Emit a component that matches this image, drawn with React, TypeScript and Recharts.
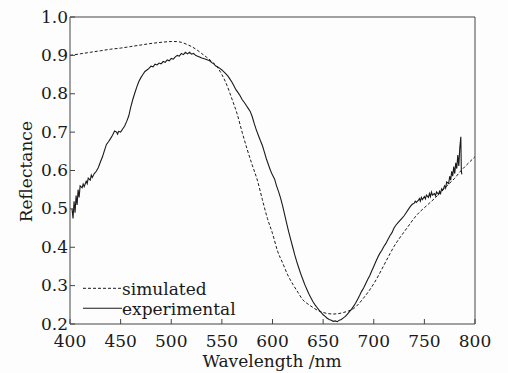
import React from "react";
import { LineChart, Line, XAxis, YAxis } from "recharts";

const xTicks = [400, 450, 500, 550, 600, 650, 700, 750, 800];
const yTicks = [0.2, 0.3, 0.4, 0.5, 0.6, 0.7, 0.8, 0.9, 1.0];

const simNm = [400, 410, 420, 430, 440, 450, 460, 470, 480, 490, 500, 505, 510, 515, 520, 525, 530, 535, 540, 545, 550, 555, 560, 565, 570, 575, 580, 585, 590, 595, 600, 605, 610, 615, 620, 625, 630, 635, 640, 645, 650, 655, 660, 665, 670, 675, 680, 685, 690, 695, 700, 705, 710, 715, 720, 725, 730, 735, 740, 745, 750, 755, 760, 765, 770, 775, 780, 785, 790, 795, 800];
const simVal = [0.900, 0.904, 0.908, 0.912, 0.916, 0.919, 0.923, 0.927, 0.931, 0.934, 0.936, 0.936, 0.934, 0.929, 0.923, 0.915, 0.905, 0.895, 0.884, 0.871, 0.850, 0.822, 0.786, 0.748, 0.700, 0.655, 0.614, 0.575, 0.524, 0.475, 0.436, 0.390, 0.359, 0.328, 0.304, 0.283, 0.263, 0.252, 0.243, 0.235, 0.230, 0.227, 0.226, 0.227, 0.230, 0.234, 0.240, 0.252, 0.268, 0.285, 0.305, 0.328, 0.353, 0.378, 0.402, 0.422, 0.440, 0.458, 0.476, 0.491, 0.503, 0.515, 0.527, 0.540, 0.554, 0.567, 0.580, 0.596, 0.610, 0.623, 0.636];

const expNm = [402, 403, 404, 405, 406, 407, 408, 409, 410, 412, 413, 414, 416, 417, 418, 420, 421, 422, 424, 426, 428, 430, 432, 434, 436, 438, 440, 442, 444, 446, 447, 448, 450, 452, 454, 456, 458, 460, 462, 464, 466, 468, 470, 472, 474, 476, 478, 480, 482, 484, 486, 488, 490, 492, 494, 496, 498, 500, 502, 504, 506, 508, 510, 512, 514, 516, 518, 520, 522, 524, 526, 528, 530, 532, 534, 536, 538, 540, 542, 544, 546, 548, 550, 552, 554, 556, 558, 560, 562, 564, 566, 568, 570, 572, 574, 576, 578, 580, 582, 584, 586, 588, 590, 592, 594, 596, 598, 600, 602, 604, 606, 608, 610, 612, 614, 616, 618, 620, 622, 624, 626, 628, 630, 632, 634, 636, 638, 640, 642, 644, 646, 648, 650, 652, 654, 656, 658, 660, 662, 664, 666, 668, 670, 672, 674, 676, 678, 680, 682, 684, 686, 688, 690, 692, 694, 696, 698, 700, 702, 704, 706, 708, 710, 712, 714, 716, 718, 720, 722, 724, 726, 728, 730, 732, 734, 736, 738, 740, 741, 742, 744, 745, 746, 747, 748, 750, 751, 752, 754, 755, 756, 757, 758, 760, 761, 762, 764, 765, 766, 767, 768, 770, 771, 772, 774, 775, 776, 777, 778, 779, 780, 781, 782, 783, 784, 785, 786, 786.5, 787];
const expVal = [0.500, 0.475, 0.520, 0.490, 0.535, 0.510, 0.550, 0.530, 0.560, 0.555, 0.565, 0.558, 0.572, 0.566, 0.580, 0.575, 0.588, 0.582, 0.592, 0.598, 0.608, 0.622, 0.635, 0.652, 0.668, 0.675, 0.683, 0.692, 0.703, 0.700, 0.695, 0.702, 0.700, 0.708, 0.716, 0.728, 0.742, 0.765, 0.785, 0.802, 0.818, 0.832, 0.842, 0.850, 0.858, 0.862, 0.866, 0.872, 0.870, 0.877, 0.875, 0.880, 0.878, 0.884, 0.882, 0.888, 0.886, 0.892, 0.890, 0.896, 0.900, 0.898, 0.905, 0.902, 0.908, 0.904, 0.908, 0.903, 0.905, 0.900, 0.898, 0.896, 0.893, 0.892, 0.890, 0.888, 0.886, 0.881, 0.878, 0.872, 0.870, 0.866, 0.862, 0.857, 0.852, 0.846, 0.838, 0.830, 0.820, 0.810, 0.803, 0.795, 0.785, 0.778, 0.770, 0.762, 0.754, 0.740, 0.722, 0.706, 0.692, 0.678, 0.665, 0.648, 0.630, 0.615, 0.600, 0.588, 0.578, 0.560, 0.545, 0.528, 0.508, 0.485, 0.462, 0.440, 0.420, 0.400, 0.380, 0.362, 0.346, 0.330, 0.316, 0.302, 0.290, 0.278, 0.268, 0.258, 0.250, 0.243, 0.236, 0.230, 0.224, 0.220, 0.215, 0.212, 0.210, 0.207, 0.208, 0.206, 0.210, 0.212, 0.216, 0.220, 0.226, 0.232, 0.238, 0.246, 0.254, 0.264, 0.274, 0.285, 0.294, 0.305, 0.316, 0.326, 0.338, 0.350, 0.362, 0.374, 0.384, 0.392, 0.402, 0.410, 0.420, 0.430, 0.438, 0.450, 0.458, 0.464, 0.470, 0.476, 0.482, 0.490, 0.498, 0.506, 0.512, 0.515, 0.520, 0.517, 0.522, 0.527, 0.520, 0.530, 0.524, 0.532, 0.526, 0.536, 0.530, 0.540, 0.532, 0.544, 0.536, 0.540, 0.534, 0.544, 0.538, 0.546, 0.540, 0.552, 0.548, 0.560, 0.554, 0.570, 0.566, 0.585, 0.575, 0.598, 0.585, 0.610, 0.592, 0.620, 0.605, 0.640, 0.612, 0.660, 0.688, 0.600, 0.590];

const simData = simNm.map((nm, i) => ({ nm, v: simVal[i] }));
const expData = expNm.map((nm, i) => ({ nm, v: expVal[i] }));

const FONT = "'DejaVu Serif', serif";
const AXIS = "#444";
const INK = "#1a1a1a";

const BottomTick = (props: any) => (
  <text x={props.x} y={props.y + 23} textAnchor="middle" fontFamily={FONT} fontSize={17} fill={INK}>
    {props.payload.value}
  </text>
);
const LeftTick = (props: any) => (
  <text x={props.x} y={props.y + 5.5} textAnchor="end" fontFamily={FONT} fontSize={17} fill={INK}>
    {Number(props.payload.value).toFixed(1)}
  </text>
);

export default function App() {
  return (
    <div style={{ position: "absolute", left: 0, top: 0, width: 508, height: 373, background: "#fdfdfd" }}>
      <LineChart width={508} height={373} margin={{ top: 0, right: 0, bottom: 0, left: 0 }}>
        <XAxis
          xAxisId="b"
          dataKey="nm"
          type="number"
          domain={[400, 800]}
          ticks={xTicks}
          allowDataOverflow
          height={49}
          stroke={AXIS}
          tickSize={-5}
          tickMargin={5}
          tick={BottomTick}
        />
        <XAxis
          xAxisId="t"
          orientation="top"
          dataKey="nm"
          type="number"
          domain={[400, 800]}
          ticks={xTicks}
          allowDataOverflow
          height={17}
          stroke={AXIS}
          tickSize={-5}
          tick={false}
        />
        <YAxis
          yAxisId="l"
          type="number"
          domain={[0.2, 1.0]}
          ticks={yTicks}
          allowDataOverflow
          width={70}
          stroke={AXIS}
          tickSize={-5}
          tickMargin={7}
          tick={LeftTick}
        />
        <YAxis
          yAxisId="r"
          orientation="right"
          type="number"
          domain={[0.2, 1.0]}
          ticks={yTicks}
          allowDataOverflow
          width={33}
          stroke={AXIS}
          tickLine={false}
          tick={false}
        />
        <Line
          xAxisId="b"
          yAxisId="l"
          data={simData}
          dataKey="v"
          type="monotone"
          stroke={INK}
          strokeWidth={1}
          strokeDasharray="3 2"
          dot={false}
          isAnimationActive={false}
        />
        <Line
          xAxisId="b"
          yAxisId="l"
          data={expData}
          dataKey="v"
          type="linear"
          stroke={INK}
          strokeWidth={1.1}
          dot={false}
          isAnimationActive={false}
        />
        <g>
          <line x1={83} x2={122} y1={288.3} y2={288.3} stroke={INK} strokeWidth={1} strokeDasharray="3 2" />
          <text x={122} y={295} fontFamily={FONT} fontSize={17} fill={INK}>simulated</text>
          <line x1={83} x2={122} y1={308.3} y2={308.3} stroke={INK} strokeWidth={1.1} />
          <text x={122} y={315} fontFamily={FONT} fontSize={17} fill={INK}>experimental</text>
        </g>
        <text
          transform="translate(32, 171.7) rotate(-90)"
          textAnchor="middle"
          fontFamily={FONT}
          fontSize={17}
          fill={INK}
        >
          Reflectance
        </text>
        <text x={272} y={367} textAnchor="middle" fontFamily={FONT} fontSize={17} fill={INK}>
          Wavelength /nm
        </text>
      </LineChart>
    </div>
  );
}
